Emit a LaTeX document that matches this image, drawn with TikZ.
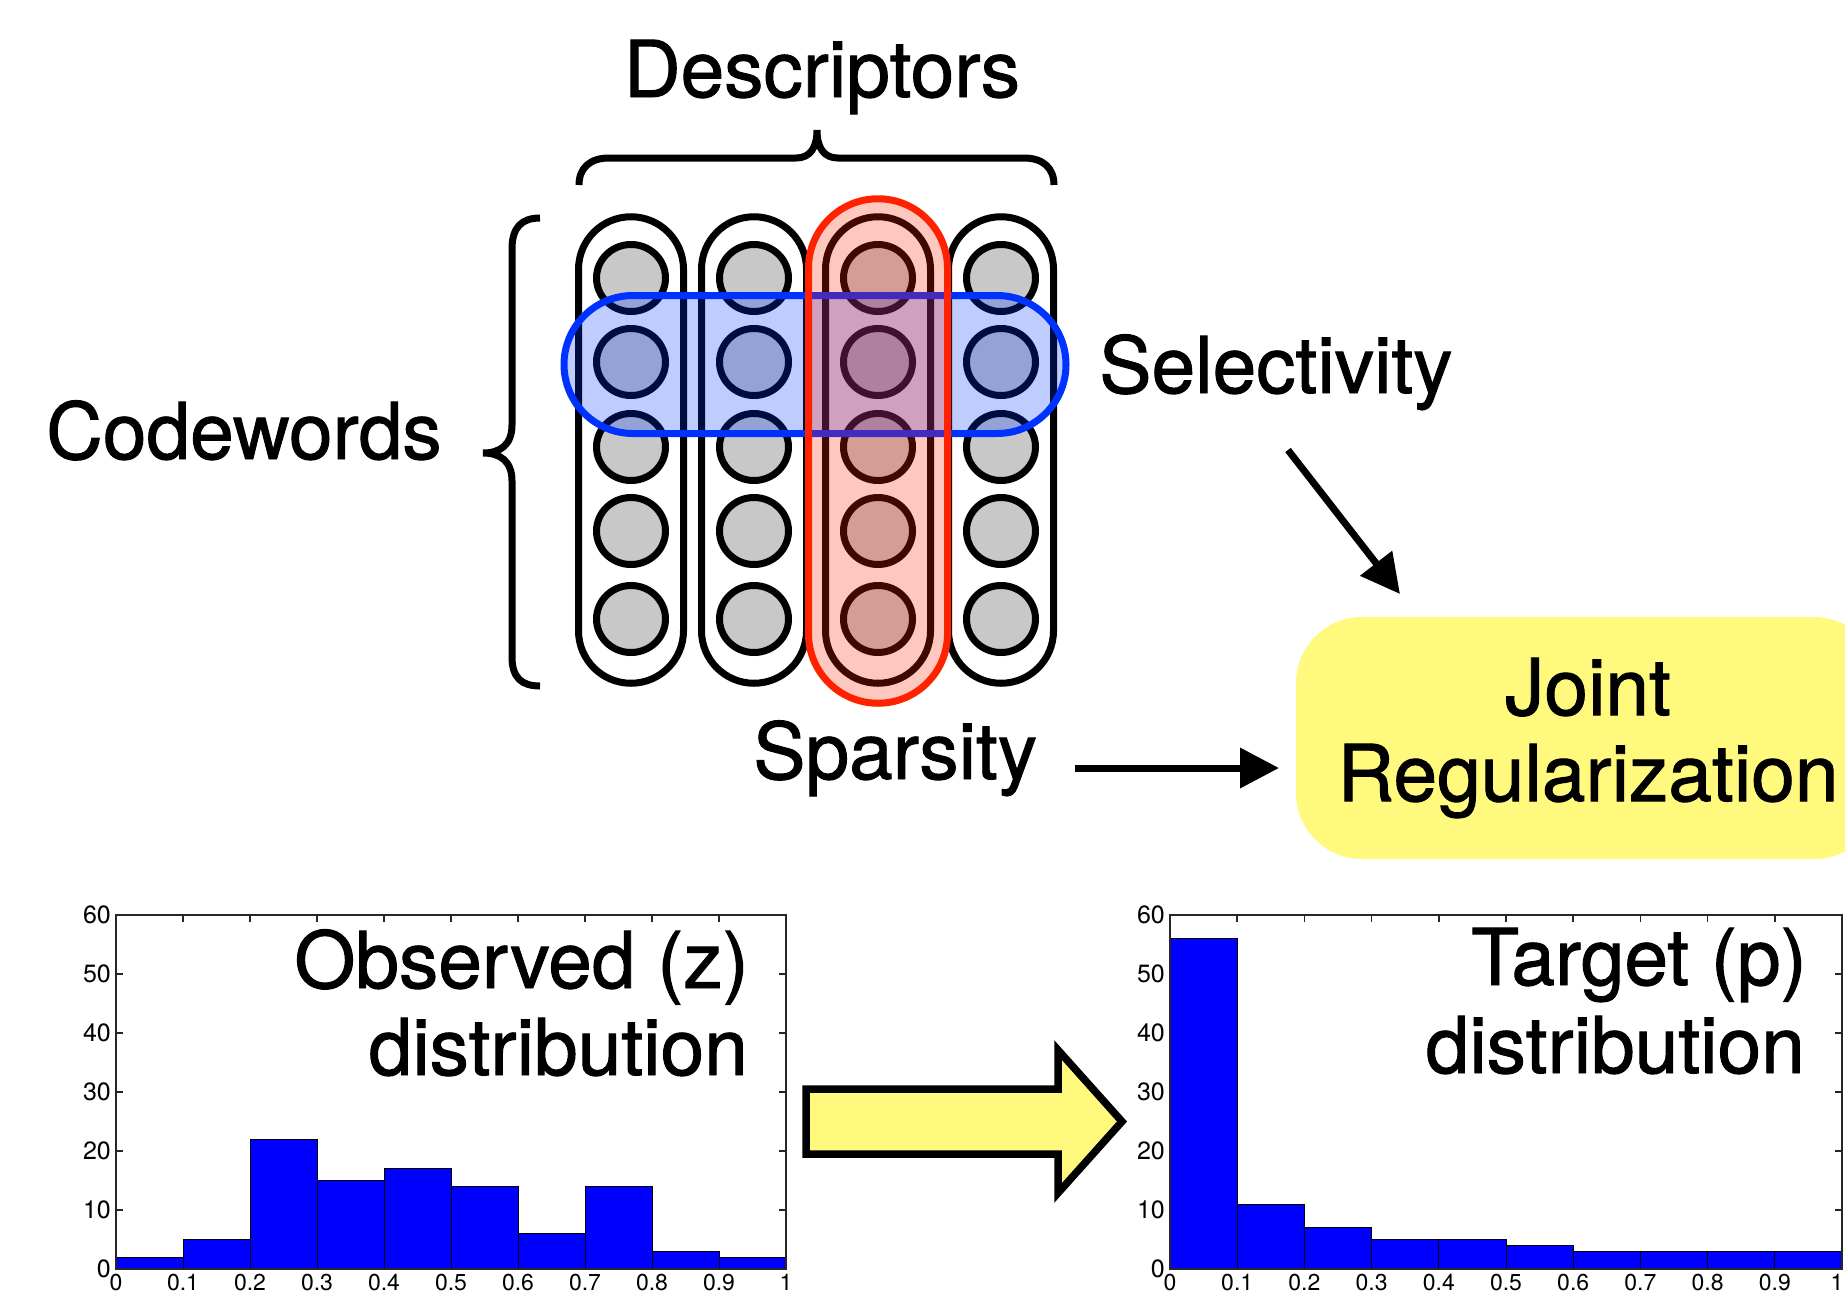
\documentclass[tikz,border=0pt]{standalone}
\usepackage{fontspec}
\setmainfont{TeX Gyre Heros}
\newfontfamily\medfont[FakeBold=1.2]{TeX Gyre Heros}
\usetikzlibrary{arrows.meta,shapes.geometric}
\definecolor{cgray}{RGB}{200,200,200}
\definecolor{cblue}{RGB}{0,50,255}
\definecolor{cred}{RGB}{255,34,0}
\definecolor{cyel}{RGB}{255,249,125}
\definecolor{barblue}{RGB}{0,0,255}
\tikzset{
  big/.style={font=\medfont\fontsize{78.5pt}{86pt}\selectfont, inner sep=0pt},
  ticklab/.style={font=\fontsize{25pt}{30pt}\selectfont, inner sep=0pt},
  xticklab/.style={font=\fontsize{23pt}{27pt}\selectfont, inner sep=0pt},
  colpill/.style={rectangle, draw=black, line width=7pt, rounded corners=52.5pt, minimum width=105pt, minimum height=466.5pt, inner sep=0pt},
  dot/.style={ellipse, draw=black, line width=7pt, fill=cgray, minimum width=69pt, minimum height=67pt, inner sep=0pt},
  bluepill/.style={rectangle, draw=cblue, line width=7pt, fill=cblue, fill opacity=0.25, rounded corners=69pt, minimum width=502pt, minimum height=138pt, inner sep=0pt},
  redpill/.style={rectangle, draw=cred, line width=7pt, fill=cred, fill opacity=0.25, rounded corners=69.5pt, minimum width=139pt, minimum height=504.5pt, inner sep=0pt},
  jbox/.style={rectangle, fill=cyel, rounded corners=66pt, minimum width=584pt, minimum height=242pt, inner sep=0pt, align=center, font=\medfont\fontsize{78.5pt}{86pt}\selectfont},
  arr/.style={line width=7pt, -{Triangle[length=39pt,width=39pt]}},
  bracestyle/.style={line width=7pt},
  axisline/.style={line width=1.5pt, black!85},
  bar/.style={fill=barblue, draw=black, line width=1pt},
  bigarrow/.style={fill=cyel, draw=black, line width=7.5pt, miter limit=10}
}
\newcommand{\drawhisto}[5]{%
  \foreach \k in {1,...,9} {
    \draw[axisline] ({#1+\k*#2},915) -- ++(0,7);
    \draw[axisline] ({#1+\k*#2},1269) -- ++(0,-7);
  }
  \foreach \k in {1,...,5} {
    \draw[axisline] (#1,{1269-\k*59}) -- ++(7,0);
    \draw[axisline] ({#1+10*#2},{1269-\k*59}) -- ++(-7,0);
  }
  \foreach \v [count=\i from 0] in {#3} {
    \filldraw[bar] ({#1+\i*#2},1269) rectangle ({#1+(\i+1)*#2},{1269-\v*5.9});
  }
  \draw[axisline] (#1,915) rectangle ({#1+10*#2},1269);
  \foreach \k/\t in {0/0,1/0.1,2/0.2,3/0.3,4/0.4,5/0.5,6/0.6,7/0.7,8/0.8,9/0.9} {
    \node[xticklab, anchor=north] (#4x\k) at ({#1+\k*#2},1274) {\t};
  }
  \node[xticklab, anchor=north] (#4x10) at ({#1+10*#2-#5},1274) {1};
  \foreach \k/\t in {0/0,1/10,2/20,3/30,4/40,5/50,6/60} {
    \node[ticklab, anchor=east] (#4y\k) at ({#1-5},{1269-\k*59}) {\t};
  }
}
\begin{document}
\begin{tikzpicture}[x=1pt,y=-1pt]
\useasboundingbox (0,0) rectangle (1845,1296);
\clip (0,0) rectangle (1845,1296);

% labels
\node[big, anchor=base] (desc) at (822,97) {Descriptors};
\node[big, anchor=base west] (codew) at (46,459) {Codewords};
\node[big, anchor=base west] (selt) at (1099,393) {Selectivity};
\node[big, anchor=base west] (spart) at (753,779) {Sparsity};

% braces
\draw[bracestyle] (579,185) .. controls (579,168) and (590,158) .. (609,158) -- (796,158)
  .. controls (810,158) and (817,148) .. (817,130)
  .. controls (817,148) and (824,158) .. (838,158) -- (1024,158)
  .. controls (1043,158) and (1054,168) .. (1054,185);
\draw[bracestyle] (540,218) .. controls (522,218) and (512,227) .. (512,249) -- (512,425)
  .. controls (512,445) and (500,453) .. (483,453)
  .. controls (500,453) and (512,461) .. (512,481) -- (512,657)
  .. controls (512,678) and (522,686) .. (540,686);

% columns of codewords
\foreach \cx [count=\ci] in {631,754,878,1001} {
  \node[colpill] (col\ci) at (\cx,450) {};
  \foreach \ry [count=\ri] in {278,362,447,531,619} {
    \node[dot] (d\ci\ri) at (\cx,\ry) {};
  }
}
\node[bluepill] (selpill) at (815,364.5) {};
\node[redpill] (sparpill) at (878,451) {};

% joint regularization
\node[jbox] (joint) at (1588,738) {Joint\\Regularization};
\coordinate (selA) at (1288,450);
\coordinate (selB) at (1400,594);
\draw[arr] (selA) -- (selB);
\coordinate (sparA) at (1075,768);
\coordinate (sparB) at (1279,768);
\draw[arr] (sparA) -- (sparB);

% histograms
\drawhisto{116}{67}{2,5,22,15,17,14,6,14,3,2}{L}{0}
\drawhisto{1170}{67.2}{56,11,7,5,5,4,3,3,3,3}{R}{5}
\node[big, anchor=base east] (obs1) at (749,988) {Observed (z)};
\node[big, anchor=base east] (obs2) at (748,1075) {distribution};
\node[big, anchor=base east] (tar1) at (1807,985) {Target (p)};
\node[big, anchor=base east] (tar2) at (1805,1073) {distribution};

% big yellow arrow
\filldraw[bigarrow] (806,1089) -- (1058,1089) -- (1058,1050) -- (1122,1121.5) -- (1058,1193) -- (1058,1154) -- (806,1154) -- cycle;
\end{tikzpicture}
\end{document}
